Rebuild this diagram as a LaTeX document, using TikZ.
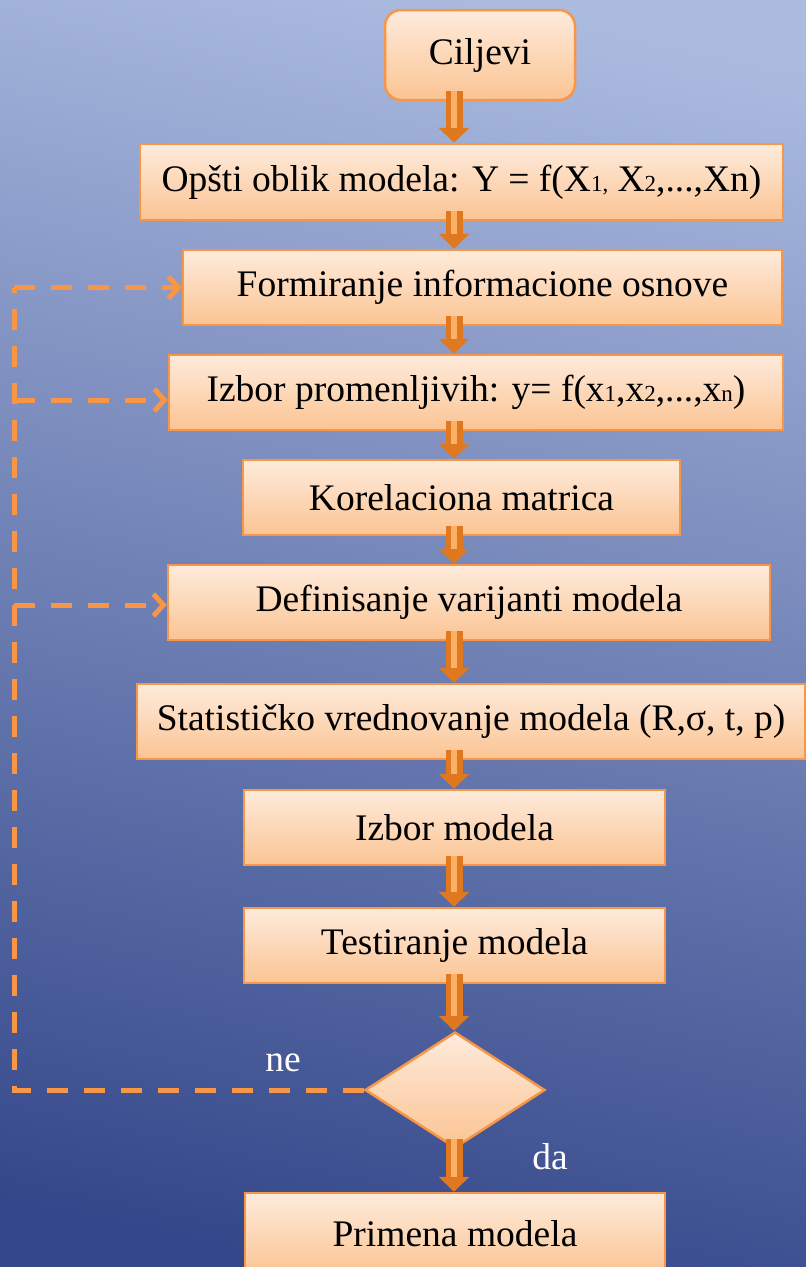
\documentclass[tikz,border=0pt]{standalone}
\usepackage{fontspec}
\setmainfont{Liberation Serif}
\usetikzlibrary{arrows.meta,shapes.geometric}
\definecolor{bgtop}{HTML}{ABBBE0}
\definecolor{bgmid}{HTML}{6E80B3}
\definecolor{bgbot}{HTML}{34478A}
\definecolor{boxtop}{HTML}{FEEBDC}
\definecolor{boxbot}{HTML}{FBC493}
\definecolor{bord}{HTML}{F79646}
\definecolor{arrdark}{HTML}{E07820}
\definecolor{arrlight}{HTML}{FAB065}
\newcommand{\sm}[1]{{\fontsize{23}{23}\selectfont #1}}
\tikzset{
  boxnode/.style={draw=bord, line width=2.5pt, top color=boxtop, bottom color=boxbot,
    font=\fontsize{37.5}{42}\selectfont, inner sep=0pt, minimum height=75pt, text=black},
  blk/.style={line width=17pt, draw=arrdark, -{Triangle[width=30pt,length=15pt]}},
  blkhi/.style={line width=6pt, draw=arrlight, shorten >=15pt},
  dashline/.style={draw=bord, line width=5pt, dash pattern=on 21pt off 16pt},
  dasharrow/.style={dashline, -{Straight Barb[length=10pt,width=22pt]}},
  lbl/.style={text=white, font=\fontsize{37.5}{42}\selectfont, inner sep=0pt}
}
\begin{document}
\begin{tikzpicture}[x=1pt,y=-1pt]
\useasboundingbox (0,0) rectangle (806,1267);
\clip (0,0) rectangle (806,1267);
\shade[top color=bgtop, middle color=bgmid, bottom color=bgbot, shading angle=-12] (-50,-50) rectangle (856,1317);

\node[boxnode, rounded corners=16pt, minimum width=190pt, minimum height=90pt] (cilj) at (480,55) {Ciljevi};
\node[boxnode, minimum width=643pt, minimum height=76pt] (opsti) at (461.5,182) {Opšti oblik modela: Y = f(X\sm{1}\sm{,} X\sm{2},...,Xn)};
\node[boxnode, minimum width=599pt] (form) at (482.5,287.5) {Formiranje informacione osnove};
\node[boxnode, minimum width=614pt] (izbp) at (476,392.5) {Izbor promenljivih: y= f(x\sm{1},x\sm{2},...,x\sm{n})};
\node[boxnode, minimum width=437pt] (kor) at (461.5,497.5) {Korelaciona matrica};
\node[boxnode, minimum width=602pt] (def) at (469,602.5) {Definisanje varijanti modela};
\node[boxnode, minimum width=668pt] (stat) at (471,721.5) {Statističko vrednovanje modela (R,σ, t, p)};
\node[boxnode, minimum width=421pt] (izm) at (454.5,827.5) {Izbor modela};
\node[boxnode, minimum width=421pt] (test) at (454.5,945.5) {Testiranje modela};
\node[diamond, draw=bord, line width=2.5pt, top color=boxtop, bottom color=boxbot, aspect=1.55, minimum width=180pt, minimum height=116pt, inner sep=0pt] (dia) at (455,1090) {};
\node[boxnode, minimum width=420pt, minimum height=82pt] (prim) at (455,1234) {Primena modela};

\coordinate (ax) at (454,0);
\foreach \a/\b in {cilj/opsti,opsti/form,form/izbp,izbp/kor,kor/def,def/stat,stat/izm,izm/test,test/dia,dia/prim}{
  \draw[blk] ([yshift=10pt]\a.south -| ax) -- (\b.north -| ax);
  \draw[blkhi] ([yshift=10pt]\a.south -| ax) -- (\b.north -| ax);
}

\coordinate (lc) at (14,287.5);
\draw[dashline] (dia.west) -| (lc);
\draw[dasharrow] (lc) -- (form.west);
\draw[dasharrow] (lc |- 0,400) -- (izbp.west |- 0,400);
\draw[dasharrow] (lc |- 0,605) -- (def.west |- 0,605);

\node[lbl] (ne) at (283,1063) {ne};
\node[lbl] (da) at (550,1157) {da};
\end{tikzpicture}
\end{document}
